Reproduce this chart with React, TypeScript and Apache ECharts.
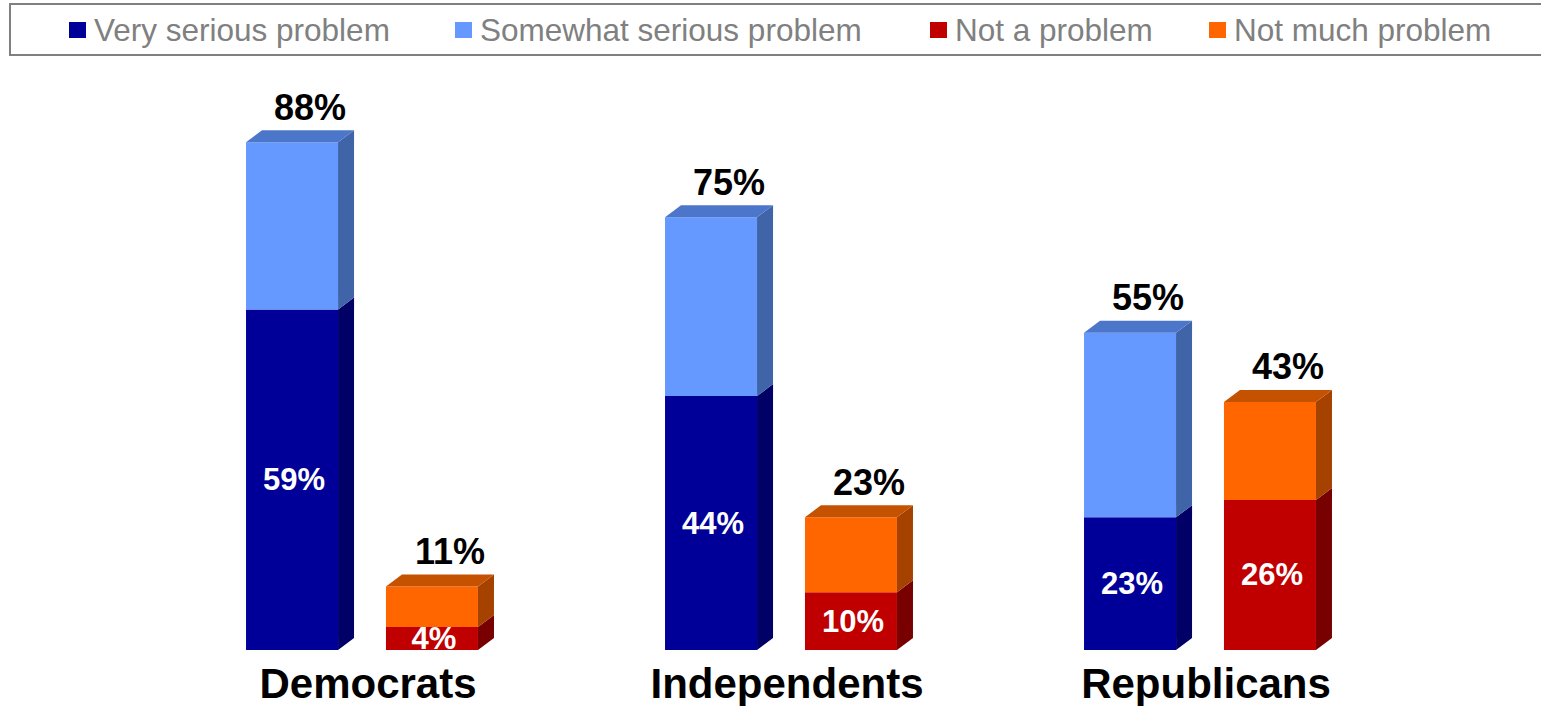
import React, { useEffect, useRef } from "react";
import * as echarts from "echarts";

const categories = ["Democrats", "Independents", "Republicans"];
const verySerious = [59, 44, 23];
const somewhatSerious = [29, 31, 32];
const notAProblem = [4, 10, 26];
const notMuchProblem = [7, 13, 17];

const seriesNames = [
  "Very serious problem",
  "Somewhat serious problem",
  "Not a problem",
  "Not much problem",
];

const FONT = "'Liberation Sans', Arial, Helvetica, sans-serif";
const DX = 16;
const DY = 12;
const BAR_W = 0.2196;
const OFFSET = 0.167;

type Face = { front: string; side: string; top: string };
const faces: Face[] = [
  { front: "#000099", side: "#000066", top: "#00007A" },
  { front: "#6699FF", side: "#4064A8", top: "#4C76C9" },
  { front: "#C00000", side: "#780000", top: "#960000" },
  { front: "#FF6600", side: "#A64200", top: "#C45200" },
];

function makeSeries(
  idx: number,
  name: string,
  values: number[],
  bases: number[],
  side: number,
  isTop: boolean,
  innerLabel: boolean
) {
  const f = faces[idx];
  const data = values.map((v, i) => [i, bases[i], bases[i] + v, v]);
  return {
    type: "custom",
    name,
    itemStyle: { color: f.front },
    data,
    encode: { x: 0, y: [1, 2] },
    renderItem: (params: any, api: any) => {
      const cat = api.value(0);
      const lo = api.value(1);
      const hi = api.value(2);
      const val = api.value(3);
      const p0 = api.coord([cat, lo]);
      const p1 = api.coord([cat, hi]);
      const band = api.size([1, 0])[0];
      const w = band * BAR_W;
      const cx = p0[0] + band * OFFSET * side;
      const x0 = cx - w / 2;
      const x1 = cx + w / 2;
      const yb = p0[1];
      const yt = p1[1];
      const children: any[] = [
        {
          type: "polygon",
          shape: {
            points: [
              [x1, yb],
              [x1 + DX, yb - DY],
              [x1 + DX, yt - DY],
              [x1, yt],
            ],
          },
          style: { fill: f.side },
        },
        {
          type: "rect",
          shape: { x: x0, y: yt, width: w, height: yb - yt },
          style: { fill: f.front },
        },
      ];
      if (isTop) {
        children.push({
          type: "polygon",
          shape: {
            points: [
              [x0, yt],
              [x0 + DX, yt - DY],
              [x1 + DX, yt - DY],
              [x1, yt],
            ],
          },
          style: { fill: f.top },
        });
        children.push({
          type: "text",
          x: cx + 18,
          y: yt - 35,
          style: {
            text: Math.round(hi) + "%",
            fill: "#000000",
            font: `bold 36px ${FONT}`,
            align: "center",
            verticalAlign: "middle",
          },
        });
      }
      if (innerLabel) {
        children.push({
          type: "text",
          x: cx + 2,
          y: (yt + yb) / 2,
          style: {
            text: Math.round(val) + "%",
            fill: "#FFFFFF",
            font: `bold 31px ${FONT}`,
            align: "center",
            verticalAlign: "middle",
          },
        });
      }
      return { type: "group", children };
    },
  };
}

export default function App() {
  const ref = useRef<HTMLDivElement>(null);
  useEffect(() => {
    if (!ref.current) return;
    const chart = echarts.init(ref.current, null, { renderer: "svg" });
    const zeros = categories.map(() => 0);
    const legendLefts = [69, 455, 930, 1209];
    const option: any = {
      animation: false,
      backgroundColor: "#FFFFFF",
      graphic: [
        {
          type: "rect",
          shape: { x: 10, y: 4, width: 1545, height: 51 },
          style: { fill: "none", stroke: "#808080", lineWidth: 2 },
          silent: true,
        },
      ],
      legend: seriesNames.map((n, i) => ({
        data: [{ name: n, itemStyle: { color: faces[i].front } }],
        left: legendLefts[i],
        top: 14,
        padding: 0,
        icon: "rect",
        itemWidth: 17,
        itemHeight: 16,
        selectedMode: false,
        textStyle: {
          fontSize: 31.5,
          color: "#808080",
          fontFamily: FONT,
          padding: [0, 0, 0, 3],
        },
      })),
      grid: { left: 152.5, right: 131.5, top: 73, bottom: 56, containLabel: false },
      xAxis: {
        type: "category",
        data: categories,
        axisLine: { show: false },
        axisTick: { show: false },
        splitLine: { show: false },
        axisLabel: {
          fontSize: 42,
          fontWeight: "bold",
          color: "#000000",
          fontFamily: FONT,
          margin: 12,
          padding: [0, 0, 0, 12],
        },
      },
      yAxis: {
        type: "value",
        min: 0,
        max: 100,
        show: false,
        splitLine: { show: false },
      },
      series: [
        makeSeries(0, seriesNames[0], verySerious, zeros, -1, false, true),
        makeSeries(1, seriesNames[1], somewhatSerious, verySerious, -1, true, false),
        makeSeries(2, seriesNames[2], notAProblem, zeros, 1, false, true),
        makeSeries(3, seriesNames[3], notMuchProblem, notAProblem, 1, true, false),
      ],
    };
    chart.setOption(option);
    return () => chart.dispose();
  }, []);
  return (
    <div
      ref={ref}
      style={{ position: "fixed", left: 0, top: 0, width: 1541, height: 706 }}
    />
  );
}
